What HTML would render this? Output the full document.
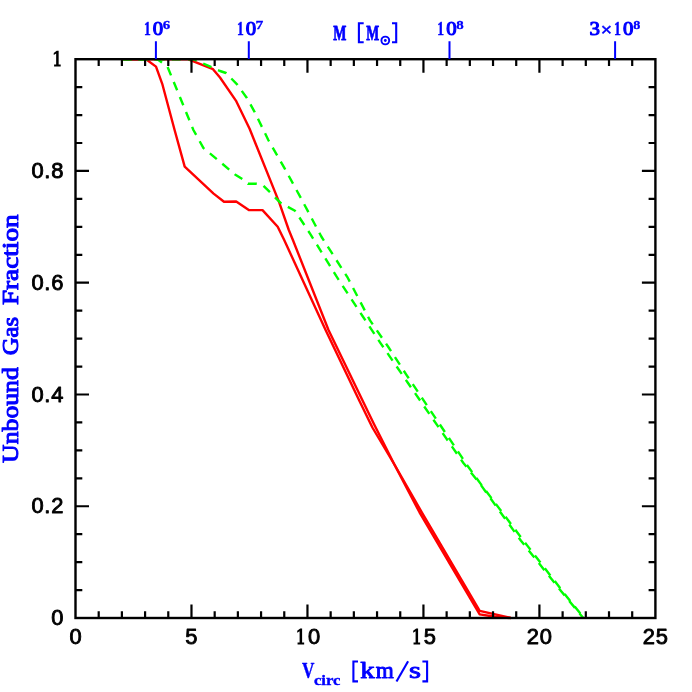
<!DOCTYPE html>
<html><head><meta charset="utf-8"><title>Unbound Gas Fraction</title>
<style>html,body{margin:0;padding:0;background:#fff;}svg{display:block;will-change:transform;}text{font-family:"Liberation Sans",sans-serif;stroke-linejoin:round;}.s{font-family:"Liberation Serif",serif;font-weight:bold;fill:#0000ff;stroke:#0000ff;stroke-width:0.4px;}</style>
</head><body>
<svg width="692" height="692" viewBox="0 0 692 692">
<rect width="692" height="692" fill="#fff"/>
<clipPath id="cp"><rect x="70" y="58.3" width="600" height="570"/></clipPath>
<g fill="none" stroke-linejoin="round" stroke-linecap="butt" clip-path="url(#cp)">
<path d="M122.0 59.2 L146.0 59.2 L156.0 66.6 L162.5 84.7 L174.6 130.0 L184.7 166.6 L213.6 193.6 L224.0 201.8 L236.2 201.5 L248.8 210.1 L262.5 210.1 L277.7 226.7 L284.2 240.0 L325.6 330.0 L359.0 400.0 L372.4 427.5 L394.4 464.5 L421.8 512.3 L479.7 610.8 L510.8 618.0" stroke="#ff0000" stroke-width="2.4"/>
<path d="M122.0 59.2 L187.8 59.2 L213.0 69.2 L220.0 77.5 L235.9 100.6 L249.6 128.8 L279.1 202.1 L288.8 230.0 L292.9 240.0 L328.5 330.0 L362.3 400.0 L373.8 423.8 L394.4 464.5 L419.5 512.3 L479.7 614.4 L495.0 616.8 L510.8 618.0" stroke="#ff0000" stroke-width="2.4"/>
<path d="M122.0 59.2 L157.5 59.2 L167.6 67.0 L193.4 130.0 L203.5 148.1 L235.0 174.4 L242.3 179.0 L248.0 183.8 L256.7 183.8 L263.2 185.5 L280.6 202.9 L295.0 210.8 L310.5 234.3 L336.0 275.7 L362.5 316.0 L380.5 343.1 L408.0 383.0 L463.2 462.8 L480.3 484.2 L521.0 540.8 L561.4 591.4 L583.3 618.0" stroke="#00ff00" stroke-width="2.4" stroke-dasharray="9.00 7.18" stroke-dashoffset="0.25"/>
<path d="M122.0 59.2 L193.6 59.2 L220.0 71.0 L226.0 73.0 L237.3 84.7 L246.7 97.7 L254.7 112.1 L268.3 140.0 L284.9 168.9 L300.8 197.8 L321.3 236.5 L347.7 277.7 L370.0 320.4 L388.0 346.5 L406.1 374.3 L468.6 467.3 L480.7 483.9 L527.5 545.9 L567.2 597.2 L583.9 618.0" stroke="#00ff00" stroke-width="2.4" stroke-dasharray="9.00 7.19" stroke-dashoffset="15.02"/>
</g>
<g stroke="#000" stroke-width="2.4" fill="none" stroke-linecap="butt">
<rect x="75.5" y="59.2" width="579.9" height="558.8"/>
<path d="M98.70 618.0 v-6.8 M98.70 59.2 v6.8 M121.89 618.0 v-6.8 M121.89 59.2 v6.8 M145.09 618.0 v-6.8 M145.09 59.2 v6.8 M168.28 618.0 v-6.8 M168.28 59.2 v6.8 M191.48 618.0 v-13.5 M191.48 59.2 v13.5 M214.68 618.0 v-6.8 M214.68 59.2 v6.8 M237.87 618.0 v-6.8 M237.87 59.2 v6.8 M261.07 618.0 v-6.8 M261.07 59.2 v6.8 M284.26 618.0 v-6.8 M284.26 59.2 v6.8 M307.46 618.0 v-13.5 M307.46 59.2 v13.5 M330.66 618.0 v-6.8 M330.66 59.2 v6.8 M353.85 618.0 v-6.8 M353.85 59.2 v6.8 M377.05 618.0 v-6.8 M377.05 59.2 v6.8 M400.24 618.0 v-6.8 M400.24 59.2 v6.8 M423.44 618.0 v-13.5 M423.44 59.2 v13.5 M446.64 618.0 v-6.8 M446.64 59.2 v6.8 M469.83 618.0 v-6.8 M469.83 59.2 v6.8 M493.03 618.0 v-6.8 M493.03 59.2 v6.8 M516.22 618.0 v-6.8 M516.22 59.2 v6.8 M539.42 618.0 v-13.5 M539.42 59.2 v13.5 M562.62 618.0 v-6.8 M562.62 59.2 v6.8 M585.81 618.0 v-6.8 M585.81 59.2 v6.8 M609.01 618.0 v-6.8 M609.01 59.2 v6.8 M632.20 618.0 v-6.8 M632.20 59.2 v6.8 M75.5 590.06 h6.8 M655.4 590.06 h-6.8 M75.5 562.12 h6.8 M655.4 562.12 h-6.8 M75.5 534.18 h6.8 M655.4 534.18 h-6.8 M75.5 506.24 h13.5 M655.4 506.24 h-13.5 M75.5 478.30 h6.8 M655.4 478.30 h-6.8 M75.5 450.36 h6.8 M655.4 450.36 h-6.8 M75.5 422.42 h6.8 M655.4 422.42 h-6.8 M75.5 394.48 h13.5 M655.4 394.48 h-13.5 M75.5 366.54 h6.8 M655.4 366.54 h-6.8 M75.5 338.60 h6.8 M655.4 338.60 h-6.8 M75.5 310.66 h6.8 M655.4 310.66 h-6.8 M75.5 282.72 h13.5 M655.4 282.72 h-13.5 M75.5 254.78 h6.8 M655.4 254.78 h-6.8 M75.5 226.84 h6.8 M655.4 226.84 h-6.8 M75.5 198.90 h6.8 M655.4 198.90 h-6.8 M75.5 170.96 h13.5 M655.4 170.96 h-13.5 M75.5 143.02 h6.8 M655.4 143.02 h-6.8 M75.5 115.08 h6.8 M655.4 115.08 h-6.8 M75.5 87.14 h6.8 M655.4 87.14 h-6.8" stroke-width="2.2"/>
</g>
<path d="M155.9 41.2V59 M248.8 41.2V59 M449.5 41.2V59 M615.1 41.2V59" stroke="#0000ff" stroke-width="2" fill="none"/>
<text transform="translate(75.9 644.0) scale(0.970 1)" text-anchor="middle" font-size="22.6" letter-spacing="0.8" fill="#000" stroke="#000" stroke-width="0.9">0</text>
<text transform="translate(191.8 644.0) scale(0.970 1)" text-anchor="middle" font-size="22.6" letter-spacing="0.8" fill="#000" stroke="#000" stroke-width="0.9">5</text>
<text transform="translate(539.8 644.0) scale(0.970 1)" text-anchor="middle" font-size="22.6" letter-spacing="0.8" fill="#000" stroke="#000" stroke-width="0.9">20</text>
<text transform="translate(655.7 644.0) scale(0.970 1)" text-anchor="middle" font-size="22.6" letter-spacing="0.8" fill="#000" stroke="#000" stroke-width="0.9">25</text>
<text transform="translate(314.4 644.0) scale(0.970 1)" text-anchor="middle" font-size="22.6" letter-spacing="0.8" fill="#000" stroke="#000" stroke-width="0.9">0</text>
<path fill="#000" d="M299.61 644.40 h2.5 v-15.9 h-1.9 l-3 2.3 v1.9 l2.4 -1.5 v13.2z M297.56 644.40 h6.6 v-2 h-6.6z"/>
<text transform="translate(430.3 644.0) scale(0.970 1)" text-anchor="middle" font-size="22.6" letter-spacing="0.8" fill="#000" stroke="#000" stroke-width="0.9">5</text>
<path fill="#000" d="M415.59 644.40 h2.5 v-15.9 h-1.9 l-3 2.3 v1.9 l2.4 -1.5 v13.2z M413.54 644.40 h6.6 v-2 h-6.6z"/>
<text transform="translate(64.2 625.0) scale(0.970 1)" text-anchor="end" font-size="22.6" letter-spacing="0.8" fill="#000" stroke="#000" stroke-width="0.9">0</text>
<text transform="translate(64.2 513.2) scale(0.970 1)" text-anchor="end" font-size="22.6" letter-spacing="0.8" fill="#000" stroke="#000" stroke-width="0.9">0.2</text>
<text transform="translate(64.2 401.5) scale(0.970 1)" text-anchor="end" font-size="22.6" letter-spacing="0.8" fill="#000" stroke="#000" stroke-width="0.9">0.4</text>
<text transform="translate(64.2 289.7) scale(0.970 1)" text-anchor="end" font-size="22.6" letter-spacing="0.8" fill="#000" stroke="#000" stroke-width="0.9">0.6</text>
<text transform="translate(64.2 178.0) scale(0.970 1)" text-anchor="end" font-size="22.6" letter-spacing="0.8" fill="#000" stroke="#000" stroke-width="0.9">0.8</text>
<path fill="#000" d="M56.15 66.60 h2.5 v-15.9 h-1.9 l-3 2.3 v1.9 l2.4 -1.5 v13.2z M54.10 66.60 h6.6 v-2 h-6.6z"/>
<text class="s" transform="translate(301.99 677.90) scale(0.754 1)" font-size="22.8" style="font-weight:bold;stroke-width:0.4px">V</text>
<text class="s" transform="translate(314.02 684.60) scale(1.143 1)" font-size="14.5" style="font-weight:bold;stroke-width:0.4px">circ</text>
<path d="M358.0 661.5 H353.4 V681.4 H358.0" fill="none" stroke="#0000ff" stroke-width="2.1"/>
<text class="s" transform="translate(360.27 678.20) scale(1.261 1)" font-size="22.8" style="font-weight:normal;stroke-width:0.9px">k</text>
<text class="s" transform="translate(375.69 678.20) scale(1.017 1)" font-size="22.8" style="font-weight:normal;stroke-width:0.9px">m</text>
<path d="M396.5 681.6 L408.1 661.2" stroke="#0000ff" stroke-width="2.1" fill="none"/>
<text class="s" transform="translate(409.02 678.20) scale(1.350 1)" font-size="22.8" style="font-weight:normal;stroke-width:0.9px">s</text>
<path d="M422.4 661.5 H427.1 V681.4 H422.4" fill="none" stroke="#0000ff" stroke-width="2.1"/>
<text class="s" transform="translate(333.25 39.50) scale(0.676 1)" font-size="20.6" style="font-weight:bold;stroke-width:0.8px">M</text>
<path d="M363.7 23.2 H358.9 V42.2 H363.7" fill="none" stroke="#0000ff" stroke-width="2.1"/>
<text class="s" transform="translate(366.35 39.50) scale(0.666 1)" font-size="20.6" style="font-weight:bold;stroke-width:0.8px">M</text>
<path d="M392.0 23.2 H396.2 V42.2 H392.0" fill="none" stroke="#0000ff" stroke-width="2.1"/>
<circle cx="385.3" cy="40.5" r="3.9" fill="none" stroke="#0000ff" stroke-width="1.9"/><circle cx="385.3" cy="40.5" r="1.4" fill="#0000ff"/>
<text class="s" transform="translate(143.96 34.50) scale(0.719 1)" font-size="18.9" style="font-weight:bold;stroke-width:0.5px">1</text>
<text class="s" transform="translate(152.76 34.50) scale(1.098 1)" font-size="18.9" style="font-weight:normal;stroke-width:1.1px">0</text>
<text class="s" transform="translate(162.83 29.45) scale(1.115 1)" font-size="13.4" style="font-weight:bold;stroke-width:0.3px">6</text>
<text class="s" transform="translate(236.96 34.50) scale(0.719 1)" font-size="18.9" style="font-weight:bold;stroke-width:0.5px">1</text>
<text class="s" transform="translate(245.76 34.50) scale(1.098 1)" font-size="18.9" style="font-weight:normal;stroke-width:1.1px">0</text>
<text class="s" transform="translate(255.45 29.45) scale(1.163 1)" font-size="13.4" style="font-weight:bold;stroke-width:0.3px">7</text>
<text class="s" transform="translate(437.36 34.50) scale(0.719 1)" font-size="18.9" style="font-weight:bold;stroke-width:0.5px">1</text>
<text class="s" transform="translate(446.16 34.50) scale(1.098 1)" font-size="18.9" style="font-weight:normal;stroke-width:1.1px">0</text>
<text class="s" transform="translate(456.27 29.45) scale(1.113 1)" font-size="13.4" style="font-weight:bold;stroke-width:0.3px">8</text>
<text class="s" transform="translate(589.55 34.50) scale(1.104 1)" font-size="18.9" style="font-weight:normal;stroke-width:1.1px">3</text>
<text class="s" transform="translate(600.53 36.00) scale(1.109 1)" font-size="18.9" style="font-weight:bold;stroke-width:0.4px">×</text>
<text class="s" transform="translate(614.04 34.50) scale(0.733 1)" font-size="18.9" style="font-weight:bold;stroke-width:0.5px">1</text>
<text class="s" transform="translate(622.96 34.50) scale(1.098 1)" font-size="18.9" style="font-weight:normal;stroke-width:1.1px">0</text>
<text class="s" transform="translate(633.29 29.45) scale(1.061 1)" font-size="13.4" style="font-weight:bold;stroke-width:0.3px">8</text>
<text class="s" style="font-weight:normal;stroke-width:1.0px" transform="translate(18.4 462.91) rotate(-90) scale(1.119 1)" font-size="23">Unbound</text>
<text class="s" style="font-weight:normal;stroke-width:1.0px" transform="translate(18.4 355.29) rotate(-90) scale(1.074 1)" font-size="23">Gas</text>
<text class="s" style="font-weight:normal;stroke-width:1.0px" transform="translate(18.4 305.12) rotate(-90) scale(1.185 1)" font-size="23">Fraction</text>
</svg>
</body></html>
